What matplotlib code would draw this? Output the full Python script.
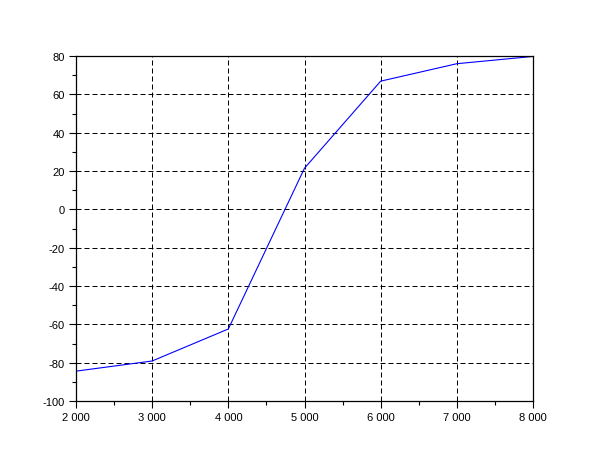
import matplotlib
matplotlib.use("Agg")
import matplotlib.pyplot as plt
from matplotlib.ticker import FuncFormatter, MultipleLocator

plt.rcParams["font.family"] = ["Liberation Sans", "DejaVu Sans"]

x_vals = [2000, 3000, 4000, 5000, 6000, 7000, 8000]
y_vals = [-84.4, -79.1, -62.4, 21.5, 66.9, 76.0, 79.8]

fig = plt.figure(figsize=(6.1, 4.6), dpi=100)
ax = fig.add_axes([0.1246, 0.126, 0.7492, 0.750])

ax.plot(x_vals, y_vals, color="blue", linewidth=0.8)

ax.set_xlim(2000, 8000)
ax.set_ylim(-100, 80)
ax.xaxis.set_major_locator(MultipleLocator(1000))
ax.xaxis.set_minor_locator(MultipleLocator(500))
ax.yaxis.set_major_locator(MultipleLocator(20))
ax.yaxis.set_minor_locator(MultipleLocator(10))
ax.xaxis.set_major_formatter(FuncFormatter(lambda v, p: f"{int(v):,}".replace(",", " ")))
ax.yaxis.set_major_formatter(FuncFormatter(lambda v, p: f"{int(v)}"))

# scilab-like dashed grid
ax.grid(True, which="major", color="black", linestyle=(0, (5, 3)), linewidth=0.72)
ax.tick_params(which="major", direction="out", length=5, labelsize=8, width=0.8, pad=3)
ax.tick_params(which="minor", direction="out", length=3, width=0.8)
ax.tick_params(top=False, right=False)
for s in ax.spines.values():
    s.set_linewidth(0.9)

fig.savefig("out.png", dpi=100)
